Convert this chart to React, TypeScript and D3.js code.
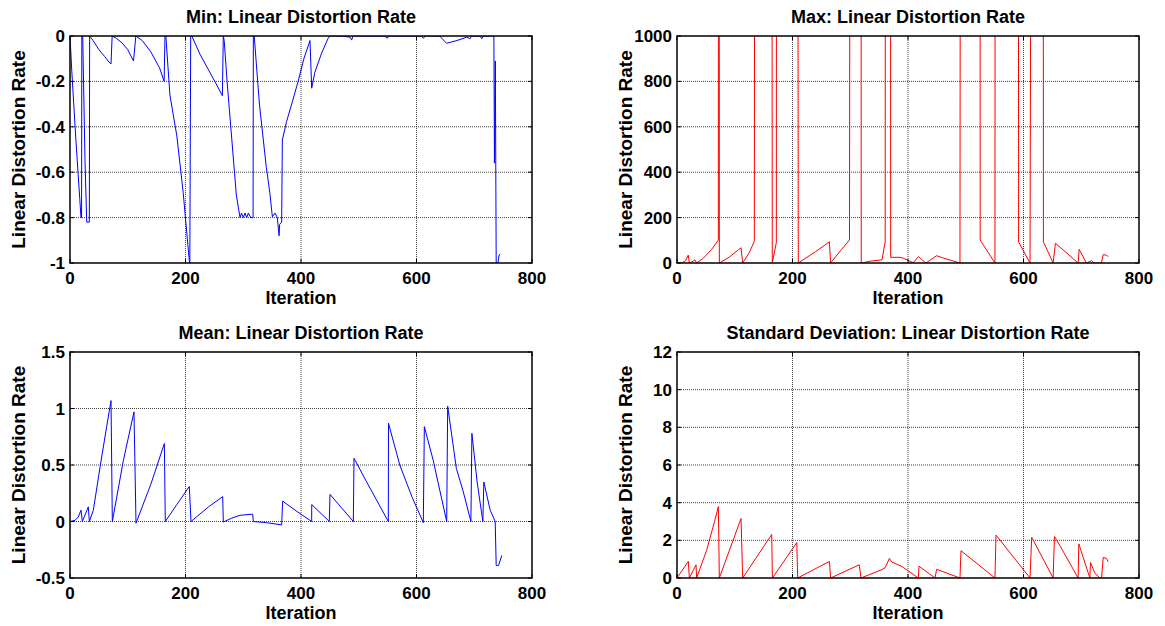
import React from 'react';
import * as d3 from 'd3';

type Pt = [number, number];

const xTicks = [0, 200, 400, 600, 800];
const minTicks = [-1, -0.8, -0.6, -0.4, -0.2, 0];
const maxTicks = [0, 200, 400, 600, 800, 1000];
const meanTicks = [-0.5, 0, 0.5, 1, 1.5];
const stdTicks = [0, 2, 4, 6, 8, 10, 12];

const titles = [
  'Min: Linear Distortion Rate',
  'Max: Linear Distortion Rate',
  'Mean: Linear Distortion Rate',
  'Standard Deviation: Linear Distortion Rate',
];
const yLabel = 'Linear Distortion Rate';
const xLabel = 'Iteration';

// values above the Max axis range (off-chart spikes)
const OFF = 3000;

const minSeries: Pt[] = [
  [0, 0], [3, -0.15], [10, -0.45], [17, -0.72], [19, -0.8], [20, -0.8], [20.5, 0], [22, 0], [26, -0.55],
  [29, -0.82], [33.5, -0.82], [34, 0], [40, -0.02], [50, -0.06], [60, -0.09], [66, -0.11], [71, -0.123],
  [73, 0], [80, -0.01], [90, -0.03], [100, -0.06], [110, -0.11], [114, 0], [125, -0.02], [140, -0.07],
  [155, -0.14], [163, -0.2], [164.5, 0], [166, 0], [173, -0.26], [185, -0.44], [196, -0.69], [206.6, -0.99],
  [207.5, -1.0], [209, 0], [211, 0], [225, -0.08], [240, -0.15], [255, -0.22], [263.8, -0.263], [265.5, 0],
  [267, -0.02], [272, -0.2], [280, -0.45], [288, -0.7], [294.4, -0.8], [297, -0.78], [300, -0.8],
  [303, -0.78], [306, -0.8], [309, -0.78], [313, -0.8], [317, -0.8], [317.5, 0], [319, 0], [328, -0.3],
  [340, -0.58], [346, -0.69], [350.4, -0.796], [355, -0.78], [359, -0.8], [362, -0.88], [363, -0.83],
  [366.5, -0.82], [367.7, -0.458], [375, -0.377], [385, -0.29], [395, -0.2], [405, -0.1], [415.6, -0.02],
  [418.5, -0.23], [424, -0.16], [435, -0.08], [447, -0.01], [450, 0], [470, 0], [485, -0.005],
  [487.7, -0.018], [490, 0], [545, 0], [549.6, -0.01], [552, 0], [608, 0], [612, -0.01], [615, 0],
  [640, 0], [652, -0.032], [670, -0.02], [687, -0.005], [692.8, -0.012], [695, 0], [710, 0],
  [713, -0.012], [716, 0], [734, 0], [735, -0.56], [736.5, -0.11], [738, -1.0], [741, -1.0],
  [743, -0.965], [745, -0.96],
];

const maxSeries: Pt[] = [
  [0, 0], [8, 0], [15, 10], [19.6, 35], [21.4, 0], [26, 5], [31, 14], [34, 0], [45, 20], [60, 60],
  [71.6, 101], [72, OFF], [73, OFF], [73.3, 0], [90, 25], [110.9, 67], [113.7, 0], [125, 45], [133.9, 95],
  [135, OFF], [164, OFF], [165, 0], [172, 90], [172.5, OFF], [208.9, OFF], [210, 0], [240, 50],
  [263.9, 93], [266, 0], [285, 60], [298.7, 101], [300, OFF], [318.6, OFF], [319, 0], [335, 8],
  [355, 14], [360.5, 93], [361, OFF], [369.6, OFF], [370, 25], [386, 25], [392, 21], [409, 1],
  [418, 28], [431, 0], [449.6, 32], [461, 22], [490, 0], [491, OFF], [524.7, OFF], [525, 101],
  [550.6, 0], [551, OFF], [591, OFF], [591.5, 93], [611.3, 0], [614, OFF], [634, OFF], [634.5, 93],
  [651.3, 0], [655.3, 87], [694.6, 0], [696.4, 60], [709, 0], [718, 10], [722, 0], [735, 0],
  [738, 37], [743.8, 34], [746.7, 28],
];

const meanSeries: Pt[] = [
  [0, 0], [8.7, 0.01], [14.4, 0.04], [19, 0.1], [21.4, 0], [31.7, 0.13], [33.5, 0], [40.4, 0.1],
  [52, 0.48], [63.5, 0.84], [71, 1.07], [73.3, 0], [92.4, 0.54], [110.8, 0.97], [114.3, -0.015],
  [140, 0.33], [163.4, 0.69], [165, 0], [185, 0.15], [206.6, 0.31], [209.5, 0], [240, 0.13],
  [264.4, 0.22], [265.5, -0.005], [280, 0.03], [294.4, 0.055], [316.3, 0.065], [317.5, 0], [340, -0.01],
  [366.5, -0.03], [368.3, 0.18], [398.3, 0.07], [418.5, 0], [418.6, 0.15], [449, 0], [450.2, 0.24],
  [490.6, 0], [491.8, 0.56], [513.7, 0.35], [551.2, 0], [551.5, 0.87], [571, 0.5], [592, 0.22],
  [611.8, -0.01], [613.6, 0.84], [629, 0.54], [640.6, 0.27], [652.3, 0], [654, 1.02], [669, 0.47],
  [680.6, 0.27], [694.2, 0], [695.9, 0.78], [705, 0.35], [714.9, 0], [716.6, 0.35], [727.6, 0.1],
  [736.3, 0], [738, -0.39], [742, -0.39], [747.8, -0.3],
];

const stdSeries: Pt[] = [
  [0, 0], [19.6, 0.88], [21.4, 0], [33, 0.7], [34, 0], [51.3, 1.47], [65, 3.0], [71.6, 3.79], [73.3, 0],
  [110.9, 3.16], [113.7, 0], [164, 2.31], [165.2, 0], [207.4, 1.88], [209, 0], [263.9, 0.88], [266, 0],
  [315.6, 0.7], [318.6, 0], [355, 0.45], [360.5, 0.55], [365, 0.85], [367.7, 1.04], [372, 0.85],
  [390, 0.6], [417.9, 0], [419, 0.63], [446.8, 0], [449.6, 0.46], [490, 0], [491.8, 1.45], [550.6, 0],
  [552.4, 2.28], [611.3, 0], [614.2, 2.16], [651.3, 0], [653.6, 2.2], [657, 2.05], [694.6, 0],
  [695.8, 1.81], [714.9, 0], [716, 0.82], [723.6, 0.25], [732.3, 0], [735.2, 0], [738, 1.09],
  [743.8, 1.04], [746.7, 0.86],
];

const FONT = '"Liberation Sans", Arial, Helvetica, sans-serif';

function fmt(v: number) {
  return String(+v.toFixed(2)).replace('\u2212', '-');
}

interface PanelProps {
  id: string;
  left: number;
  top: number;
  width: number;
  height: number;
  title: string;
  series: Pt[];
  yTicks: number[];
  color: string;
}

function Panel({ id, left, top, width, height, title, series, yTicks, color }: PanelProps) {
  const x = d3.scaleLinear().domain([0, 800]).range([left, left + width]);
  const y = d3
    .scaleLinear()
    .domain([yTicks[0], yTicks[yTicks.length - 1]])
    .range([top + height, top]);
  const line = d3
    .line<Pt>()
    .x((d) => x(d[0]))
    .y((d) => y(d[1]));
  const bottom = top + height;
  const right = left + width;
  const tl = 4;
  return (
    <g>
      <defs>
        <clipPath id={id}>
          <rect x={left} y={top} width={width} height={height} />
        </clipPath>
      </defs>
      <rect x={left} y={top} width={width} height={height} fill="#fff" />
      {/* grid */}
      {xTicks.slice(1, -1).map((t) => (
        <line key={'gx' + t} x1={x(t)} x2={x(t)} y1={top} y2={bottom} stroke="#000" strokeWidth={1} strokeDasharray="1 1" opacity={0.75} />
      ))}
      {yTicks.slice(1, -1).map((t) => (
        <line key={'gy' + t} x1={left} x2={right} y1={y(t)} y2={y(t)} stroke="#000" strokeWidth={1} strokeDasharray="1 1" opacity={0.75} />
      ))}
      {/* data */}
      <path d={line(series) || ''} fill="none" stroke={color} strokeWidth={1} clipPath={`url(#${id})`} />
      {/* box */}
      <rect x={left} y={top} width={width} height={height} fill="none" stroke="#000" strokeWidth={1.5} />
      {/* ticks */}
      {xTicks.map((t) => (
        <g key={'tx' + t}>
          <line x1={x(t)} x2={x(t)} y1={bottom} y2={bottom - tl} stroke="#000" />
          <line x1={x(t)} x2={x(t)} y1={top} y2={top + tl} stroke="#000" />
          <text x={x(t)} y={bottom + 21} textAnchor="middle" fontSize={17} fontWeight="bold" fontFamily={FONT}>
            {fmt(t)}
          </text>
        </g>
      ))}
      {yTicks.map((t) => (
        <g key={'ty' + t}>
          <line x1={left} x2={left + tl} y1={y(t)} y2={y(t)} stroke="#000" />
          <line x1={right} x2={right - tl} y1={y(t)} y2={y(t)} stroke="#000" />
          <text x={left - 5} y={y(t) + 6} textAnchor="end" fontSize={17} fontWeight="bold" fontFamily={FONT}>
            {fmt(t)}
          </text>
        </g>
      ))}
      <text x={(left + right) / 2} y={top - 13} textAnchor="middle" fontSize={18} fontWeight="bold" fontFamily={FONT}>
        {title}
      </text>
      <text x={(left + right) / 2} y={bottom + 41} textAnchor="middle" fontSize={18} fontWeight="bold" fontFamily={FONT}>
        {xLabel}
      </text>
      <text
        transform={`translate(${left - 45},${(top + bottom) / 2}) rotate(-90)`}
        textAnchor="middle"
        fontSize={19}
        fontWeight="bold"
        fontFamily={FONT}
      >
        {yLabel}
      </text>
    </g>
  );
}

export default function App() {
  const W = 1165;
  const H = 626;
  const lefts = [70, 677];
  const tops = [36, 352];
  const pw = 462;
  const ph = 227;
  return (
    <svg width={W} height={H} style={{ position: 'absolute', left: 0, top: 0, background: '#fff' }}>
      <rect x={0} y={0} width={W} height={H} fill="#fff" />
      <Panel id="c1" left={lefts[0]} top={tops[0]} width={pw} height={ph} title={titles[0]} series={minSeries} yTicks={minTicks} color="#0000ff" />
      <Panel id="c2" left={lefts[1]} top={tops[0]} width={pw} height={ph} title={titles[1]} series={maxSeries} yTicks={maxTicks} color="#ff0000" />
      <Panel id="c3" left={lefts[0]} top={tops[1]} width={pw} height={ph - 1} title={titles[2]} series={meanSeries} yTicks={meanTicks} color="#0000ff" />
      <Panel id="c4" left={lefts[1]} top={tops[1]} width={pw} height={ph - 1} title={titles[3]} series={stdSeries} yTicks={stdTicks} color="#ff0000" />
    </svg>
  );
}
